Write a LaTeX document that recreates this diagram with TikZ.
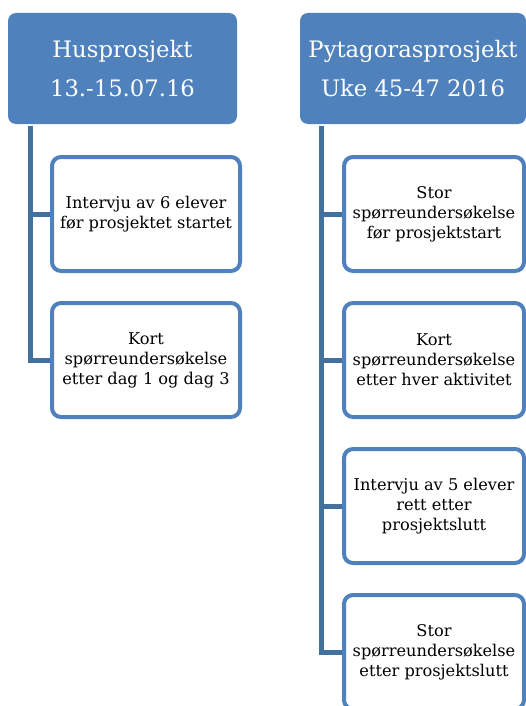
\documentclass[tikz,border=0pt]{standalone}
\usepackage{fontspec}
\setmainfont{DejaVu Serif}
\usetikzlibrary{positioning}
\definecolor{headblue}{HTML}{4F81BD}
\definecolor{itemblue}{HTML}{4F81BD}
\definecolor{stemblue}{HTML}{41719C}
\tikzset{
	backgroundcolor/.style ={fill=white},
	every node/.append style={
		align = center,
		inner sep=0pt,
	},
	header/.append style={
		fill=headblue,
		text=white,
		rounded corners=8pt,
		minimum height=111pt,
		font={\fontsize{22.7}{39}\selectfont}
	},
	item/.append style={
		draw=itemblue,
		backgroundcolor,
		line width=4pt,
		rounded corners=9pt,
		minimum height=114pt,
		font={\fontsize{16.2}{20}\selectfont}
	},
	stem/.append style={
		draw=stemblue,
		line width=5pt,
		line join=miter,
	},
}

\begin{document}
\begin{tikzpicture}[x=1pt, y=1pt]
\useasboundingbox (0,0) rectangle (526,-706);

\node(hus)[header, minimum width=229pt] at (122.5,-68.5) {Husprosjekt\\13.-15.07.16};
\node(pyt)[header, minimum width=226pt] at (413,-68.5) {Pytagorasprosjekt\\Uke 45-47 2016};

\coordinate(husroot) at (30,-126);
\coordinate(pytroot) at (321,-126);

% Husprosjekt
\node(hus1)[item, minimum width=188pt] at (146,-214) {Intervju av 6 elever\\f\o r prosjektet startet};
\node(hus2)[item, minimum width=188pt, below = 28pt of hus1] {Kort\\sp\o rreunders\o kelse\\etter dag 1 og dag 3};

\draw[stem] (husroot) |- (hus1.west);
\draw[stem] (husroot) |- (hus2.west);

% Pytagorasprosjekt
\node(pyt1)[item, minimum width=180pt] at (434,-214) {Stor\\sp\o rreunders\o kelse\\f\o r prosjektstart};
\node(pyt2)[item, minimum width=180pt, below = 28pt of pyt1] {Kort\\sp\o rreunders\o kelse\\etter hver aktivitet};
\node(pyt3)[item, minimum width=180pt, below = 28pt of pyt2] {Intervju av 5 elever\\rett etter\\prosjektslutt};
\node(pyt4)[item, minimum width=180pt, below = 28pt of pyt3] {Stor\\sp\o rreunders\o kelse\\etter prosjektslutt};

\foreach \ii in {1,...,4} {
	\draw[stem] (pytroot) |- (pyt\ii.west);
};

\end{tikzpicture}
\end{document}
